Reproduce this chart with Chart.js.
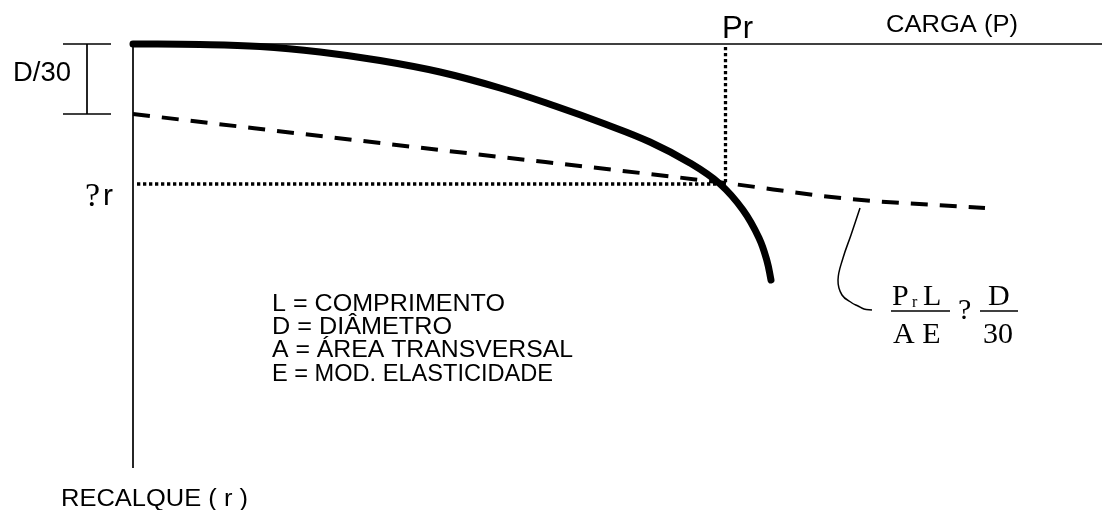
<!DOCTYPE html>
<html>
<head>
<meta charset="utf-8">
<script src="https://cdn.jsdelivr.net/npm/chart.js@4/dist/chart.umd.min.js"></script>
<style>
html,body{margin:0;padding:0;background:#fff;}
#wrap{width:1102px;height:510px;}
canvas{display:block;}
</style>
</head>
<body>
<div id="wrap"><canvas id="c" width="1102" height="510"></canvas></div>
<script>
// Units: load P (x) and settlement r (y), origin at the axes' corner.
// Load-settlement curve
const curveLoad   = [0, 6.7, 12.7, 18.7, 24.7, 30.7, 36.7, 42.2, 47.2, 51.7, 55.7, 58.7, 61.0, 62.6, 63.4, 63.8];
const curveSettle = [0, 0.05, 0.25, 0.8, 1.65, 2.8, 4.4, 6.2, 8.0, 9.8, 11.9, 14.0, 16.6, 19.4, 21.7, 23.6];
// Offset line  PL/AE + D/30
const offsetLoad   = [0, 30.7, 59.2, 71.7, 85.2];
const offsetSettle = [7.0, 10.6, 13.9, 15.5, 16.4];
// Rupture point
const ruptureLoad = 59.25;
const ruptureSettle = 14.0;
// Axes extents
const loadAxisMax = 96.9;
const settleAxisMax = 42.4;
// D/30 bracket
const bracketLoad = -4.6;
const bracketTickFrom = -7.0;
const bracketTickTo = -2.2;
const dOver30 = 7.0;
// Leader (brace) from offset line to formula
const leaderLoad   = [72.7, 71.8, 71.0, 70.5, 70.9, 71.9, 72.5, 73.1, 73.9];
const leaderSettle = [16.4, 19.1, 21.4, 23.6, 25.1, 25.9, 26.2, 26.5, 26.6];
// Fraction bars of the formula
const frac1 = [75.8, 81.7];
const frac2 = [84.7, 88.5];
const fracSettle = 26.7;

// Text labels
const labelTexts = ['Pr', 'CARGA (P)', 'D/30', '?', 'r',
  'L = COMPRIMENTO', 'D = DIÂMETRO', 'A = ÁREA TRANSVERSAL', 'E = MOD. ELASTICIDADE',
  'RECALQUE ( r )', 'P', 'r', 'L', 'A E', '?', 'D', '30'];
const labelLoad   = [58.9, 75.3, -12.0, -4.8, -3.0, 13.9, 13.9, 13.9, 13.9, -7.2, 75.9, 77.9, 79.0, 76.0, 82.5, 85.5, 85.0];
const labelSettle = [-0.6, -1.2, 3.7, 16.2, 16.1, 26.7, 29.0, 31.3, 33.7, 46.2, 26.1, 26.3, 26.1, 29.9, 27.5, 26.1, 29.9];

const SANS = '"Liberation Sans", Arial, sans-serif';
const SERIF = '"Liberation Serif", "Times New Roman", serif';
const labelFonts = [
  '31px ' + SANS, '23px ' + SANS, '28px ' + SANS, '34px ' + SERIF, '30px ' + SANS,
  '23px ' + SANS, '23px ' + SANS, '23px ' + SANS, '23px ' + SANS,
  '23px ' + SANS, '30px ' + SERIF, '16px ' + SERIF, '30px ' + SERIF, '30px ' + SERIF, '30px ' + SERIF, '30px ' + SERIF, '30px ' + SERIF];
const labelWidths = [0, 132, 58, 0, 0, 233, 180, 301, 281, 187, 0, 0, 0, 0, 0, 0, 0];

function pts(xs, ys) { return xs.map((x, i) => ({x: x, y: ys[i]})); }

const textPlugin = {
  id: 'texts',
  afterDatasetsDraw(chart) {
    const ctx = chart.ctx;
    const xs = chart.scales.x, ys = chart.scales.y;
    ctx.save();
    ctx.fillStyle = '#000';
    ctx.textBaseline = 'alphabetic';
    ctx.textAlign = 'left';
    labelTexts.forEach((t, i) => {
      const px = xs.getPixelForValue(labelLoad[i]);
      const py = ys.getPixelForValue(labelSettle[i]);
      ctx.font = labelFonts[i];
      const w = ctx.measureText(t).width;
      const sx = labelWidths[i] ? labelWidths[i] / w : 1;
      ctx.save();
      ctx.translate(px, py);
      ctx.scale(sx, 1);
      ctx.fillText(t, 0, 0);
      ctx.restore();
    });
    ctx.restore();
  }
};

const base = {showLine: true, pointRadius: 0, borderColor: '#000', fill: false, clip: false, tension: 0};

new Chart(document.getElementById('c'), {
  type: 'scatter',
  data: {
    datasets: [
      Object.assign({}, base, {label: 'Carga', data: [{x: 0, y: 0}, {x: loadAxisMax, y: 0}], borderWidth: 1.7}),
      Object.assign({}, base, {label: 'Recalque', data: [{x: 0, y: 0}, {x: 0, y: settleAxisMax}], borderWidth: 1.7}),
      Object.assign({}, base, {label: 'D/30', data: [{x: bracketLoad, y: 0}, {x: bracketLoad, y: dOver30}], borderWidth: 1.7}),
      Object.assign({}, base, {label: 'tick1', data: [{x: bracketTickFrom, y: 0}, {x: bracketTickTo, y: 0}], borderWidth: 1.7}),
      Object.assign({}, base, {label: 'tick2', data: [{x: bracketTickFrom, y: dOver30}, {x: bracketTickTo, y: dOver30}], borderWidth: 1.7}),
      Object.assign({}, base, {label: 'rupture h', data: [{x: 0.4, y: ruptureSettle}, {x: ruptureLoad, y: ruptureSettle}], borderWidth: 3.3, borderDash: [3.3, 2.7]}),
      Object.assign({}, base, {label: 'rupture v', data: [{x: ruptureLoad, y: 0.3}, {x: ruptureLoad, y: ruptureSettle}], borderWidth: 3.3, borderDash: [3.3, 2.7]}),
      Object.assign({}, base, {label: 'offset', data: pts(offsetLoad, offsetSettle), borderWidth: 4, borderDash: [17, 12], cubicInterpolationMode: 'monotone'}),
      Object.assign({}, base, {label: 'curva', data: pts(curveLoad, curveSettle), borderWidth: 7, borderCapStyle: 'round', borderJoinStyle: 'round', tension: 0.4}),
      Object.assign({}, base, {label: 'leader', data: pts(leaderLoad, leaderSettle), borderWidth: 1.5, tension: 0.4}),
      Object.assign({}, base, {label: 'frac1', data: [{x: frac1[0], y: fracSettle}, {x: frac1[1], y: fracSettle}], borderWidth: 1.3}),
      Object.assign({}, base, {label: 'frac2', data: [{x: frac2[0], y: fracSettle}, {x: frac2[1], y: fracSettle}], borderWidth: 1.3})
    ]
  },
  options: {
    responsive: false,
    animation: false,
    layout: {padding: 0},
    plugins: {legend: {display: false}, tooltip: {enabled: false}, title: {display: false}},
    scales: {
      x: {type: 'linear', display: false, min: -13.3, max: 96.9},
      y: {type: 'linear', display: false, reverse: true, min: -4.4, max: 46.6}
    }
  },
  plugins: [textPlugin]
});
</script>
</body>
</html>
